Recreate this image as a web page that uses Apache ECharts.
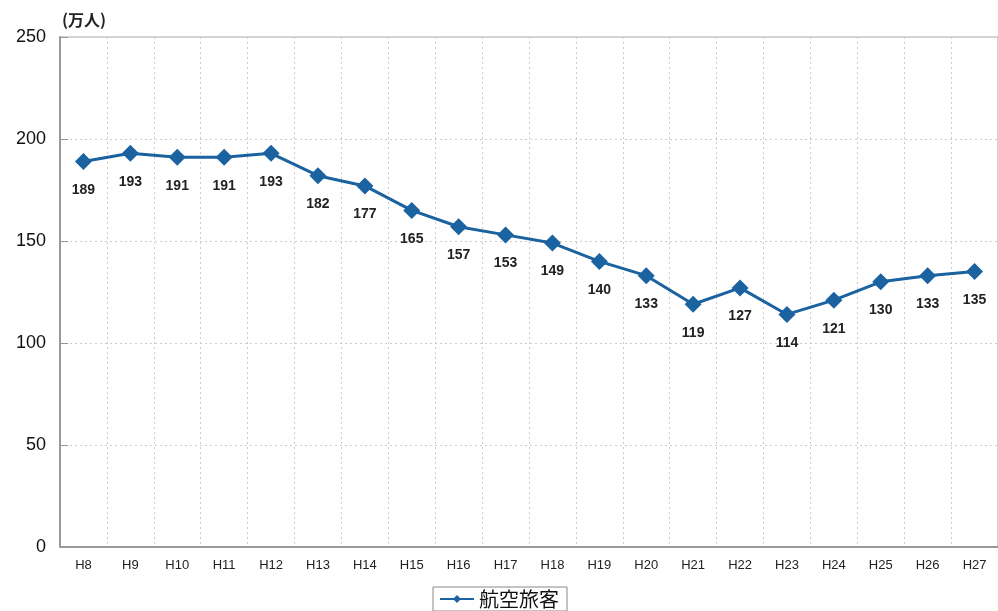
<!DOCTYPE html>
<html><head><meta charset="utf-8">
<script src="https://cdn.jsdelivr.net/npm/echarts@6/dist/echarts.min.js"></script>
<style>html,body{margin:0;padding:0;background:#fff}#c{width:998px;height:611px}</style>
</head><body><div id="c"></div>
<script>
const categories = ['H8','H9','H10','H11','H12','H13','H14','H15','H16','H17','H18','H19','H20','H21','H22','H23','H24','H25','H26','H27'];
const passengers = [189,193,191,191,193,182,177,165,157,153,149,140,133,119,127,114,121,130,133,135];
const seriesName = '航空旅客';
const yTicks = {min:0, max:250, interval:50};

const chart = echarts.init(document.getElementById('c'));
chart.setOption({
  animation:false,
  backgroundColor:'#fff',
  grid:{left:60, right:-7, top:37, bottom:64, show:true, borderColor:'#aaa', borderWidth:1, backgroundColor:'transparent'},
  legend:{
    bottom:0, left:'center', data:[seriesName],
    borderColor:'#888', borderWidth:1, padding:[2,8,2,6],
    itemWidth:34, itemHeight:10, itemGap:4,
    textStyle:{fontSize:20, color:'#111', fontFamily:'Noto Sans CJK JP'}
  },
  xAxis:{
    type:'category', data:categories, boundaryGap:true,
    axisLine:{lineStyle:{color:'#999', width:2}},
    axisTick:{show:false},
    axisLabel:{color:'#222', fontSize:13, fontFamily:'Liberation Sans', margin:12},
    splitLine:{show:true, lineStyle:{color:'#ccc', type:[2,3], width:1}}
  },
  yAxis:{
    type:'value', min:yTicks.min, max:yTicks.max, interval:yTicks.interval,
    name:'(万人)', nameLocation:'end', nameGap:9,
    nameTextStyle:{color:'#222', fontSize:16, fontWeight:'bold', fontFamily:'Noto Sans CJK JP', align:'left', padding:[0,0,0,2]},
    axisLine:{show:true, lineStyle:{color:'#999', width:2}},
    axisTick:{show:true, length:8, inside:true, lineStyle:{color:'#999'}},
    axisLabel:{color:'#111', fontSize:18, fontFamily:'Liberation Sans', margin:14},
    splitLine:{show:true, lineStyle:{color:'#ccc', type:[2,3], width:1}}
  },
  series:[{
    name:seriesName, type:'line', data:passengers,
    symbol:'diamond', symbolSize:17,
    lineStyle:{color:'#1a62a0', width:3},
    itemStyle:{color:'#1a62a0'},
    label:{show:true, position:'bottom', distance:13, color:'#222', fontSize:14, fontWeight:'bold', fontFamily:'Liberation Sans'}
  }]
});
</script></body></html>
